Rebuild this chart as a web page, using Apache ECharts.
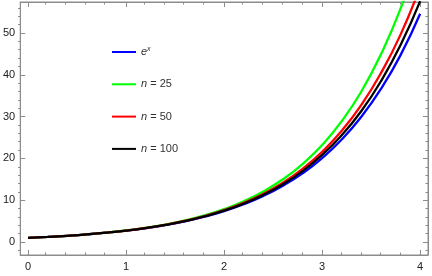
<!DOCTYPE html>
<html>
<head>
<meta charset="utf-8">
<script src="https://cdn.jsdelivr.net/npm/echarts@6/dist/echarts.min.js"></script>
<style>html,body{margin:0;padding:0;background:#fff}#c{width:432px;height:276px}</style>
</head>
<body>
<div id="c"></div>
<script>
const xs = [0, 0.2, 0.4, 0.6, 0.8, 1.0, 1.2, 1.4, 1.6, 1.8, 2.0, 2.2, 2.4, 2.6, 2.8, 3.0, 3.2, 3.4, 3.6, 3.8, 4.0];
const expVals = [1, 1.221, 1.492, 1.822, 2.226, 2.718, 3.320, 4.055, 4.953, 6.050, 7.389, 9.025, 11.02, 13.46, 16.44, 20.09, 24.53, 29.96, 36.60, 44.70, 54.60];
const n25Vals = [1, 1.222, 1.496, 1.833, 2.248, 2.762, 3.398, 4.184, 5.160, 6.372, 7.878, 9.752, 12.09, 15.00, 18.64, 23.20, 28.90, 36.00, 44.90, 55.80, 69.50];
const n50Vals = [1, 1.222, 1.494, 1.827, 2.237, 2.740, 3.359, 4.119, 5.056, 6.209, 7.629, 9.381, 11.54, 14.21, 17.51, 21.59, 26.60, 32.80, 40.40, 49.60, 61.00];
const n100Vals = [1, 1.221, 1.493, 1.825, 2.231, 2.729, 3.339, 4.087, 5.004, 6.129, 7.508, 9.201, 11.28, 13.83, 16.97, 20.82, 25.54, 31.33, 38.45, 47.10, 57.60];
const seriesNames = ['e^x', 'n = 25', 'n = 50', 'n = 100'];
const seriesColors = ['#0000ff', '#00ff00', '#ff0000', '#000000'];
const allVals = [expVals, n25Vals, n50Vals, n100Vals];
const xMajor = [0, 1, 2, 3, 4];
const xMinor = [0.2, 0.4, 0.6, 0.8, 1.2, 1.4, 1.6, 1.8, 2.2, 2.4, 2.6, 2.8, 3.2, 3.4, 3.6, 3.8];
const yMajor = [0, 10, 20, 30, 40, 50];
const yMinor = [-2, 2, 4, 6, 8, 12, 14, 16, 18, 22, 24, 26, 28, 32, 34, 36, 38, 42, 44, 46, 48, 52, 54, 56];

const frame = '#8c8c8c';
const FONT = 'Liberation Sans, Arial, sans-serif';
const labelFont = {fontFamily: FONT, fontSize: 11, color: '#222'};
const X_RANGE = {min: -0.08, max: 4.08};
const Y_RANGE = {min: -3.1, max: 57.4};
const GRID_BOX = {left: 18, right: 4, top: 2, bottom: 21};

function mkAxis(range, gridIndex, position, ticks, len, labels, line) {
  return {
    type: 'value', min: range.min, max: range.max, gridIndex: gridIndex, position: position,
    axisLine: {show: !!line, onZero: false, lineStyle: {color: frame, width: 1}},
    axisTick: {show: true, inside: true, length: len, customValues: ticks, lineStyle: {color: frame, width: 1}},
    splitLine: {show: false},
    axisLabel: labels ? Object.assign({show: true, customValues: labels, margin: position === 'bottom' ? 6 : 5}, labelFont) : {show: false}
  };
}

const chart = echarts.init(document.getElementById('c'), null, {renderer: 'canvas'});

chart.setOption({
  animation: false,
  backgroundColor: '#fff',
  grid: [
    Object.assign({show: true, borderColor: frame, borderWidth: 1, backgroundColor: 'transparent', containLabel: false}, GRID_BOX),
    Object.assign({show: false, containLabel: false}, GRID_BOX)
  ],
  xAxis: [
    mkAxis(X_RANGE, 0, 'bottom', xMajor, 5, xMajor, true),
    mkAxis(X_RANGE, 0, 'top', xMajor, 5, null, true),
    mkAxis(X_RANGE, 1, 'bottom', xMinor, 2.5, null, false),
    mkAxis(X_RANGE, 1, 'top', xMinor, 2.5, null, false)
  ],
  yAxis: [
    mkAxis(Y_RANGE, 0, 'left', yMajor, 5, yMajor, true),
    mkAxis(Y_RANGE, 0, 'right', yMajor, 5, null, true),
    mkAxis(Y_RANGE, 1, 'left', yMinor, 2.5, null, false),
    mkAxis(Y_RANGE, 1, 'right', yMinor, 2.5, null, false)
  ],
  legend: {
    orient: 'vertical',
    left: 112,
    top: 45,
    padding: 0,
    itemWidth: 24,
    itemHeight: 2,
    itemGap: 18.3,
    icon: 'rect',
    selectedMode: false,
    data: seriesNames,
    textStyle: {
      fontFamily: FONT, fontSize: 11, color: '#333', lineHeight: 14,
      rich: {
        it: {fontStyle: 'italic', fontSize: 11, color: '#333', fontFamily: FONT, lineHeight: 14},
        sup: {fontStyle: 'italic', fontSize: 7, color: '#333', fontFamily: FONT, lineHeight: 14, padding: [0, 0, 6, 0]},
        rm: {fontSize: 11, color: '#333', fontFamily: FONT, lineHeight: 14}
      }
    },
    formatter: function (name) {
      if (name === 'e^x') return '{it|e}{sup|x}';
      return '{it|n}{rm| = ' + name.split('= ')[1] + '}';
    }
  },
  series: seriesNames.map(function (nm, i) {
    return {
      name: nm,
      type: 'line',
      xAxisIndex: 0, yAxisIndex: 0,
      data: xs.map(function (x, j) { return [x, allVals[i][j]]; }),
      showSymbol: false,
      symbol: 'none',
      smooth: true,
      clip: true,
      color: seriesColors[i],
      lineStyle: {color: seriesColors[i], width: 2.3},
      z: 2 + i
    };
  })
});
</script>
</body>
</html>
